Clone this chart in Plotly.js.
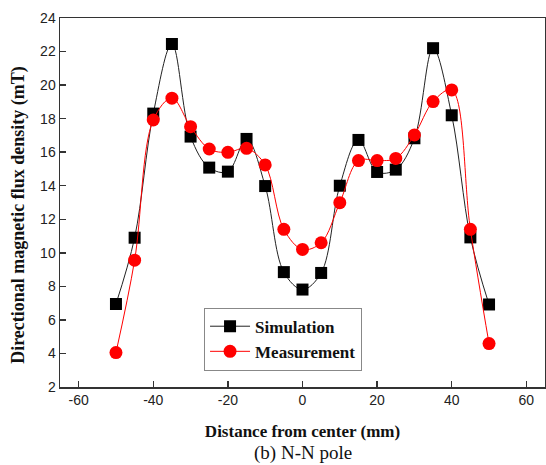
<!DOCTYPE html>
<html>
<head>
<meta charset="utf-8">
<script src="https://cdn.plot.ly/plotly-3.0.1.min.js"></script>
<style>
  html, body { margin: 0; padding: 0; background: #ffffff; }
  #chart { width: 546px; height: 465px; }
</style>
</head>
<body>
<div id="chart"></div>
<script>
// Distance from the centre of the pole pair (mm)
const distance = [-50, -45, -40, -35, -30, -25, -20, -15, -10, -5, 0,
                  5, 10, 15, 20, 25, 30, 35, 40, 45, 50];

// Directional magnetic flux density (mT), simulated
const simulation = [6.95, 10.9, 18.3, 22.45, 16.93, 15.08, 14.84, 16.79, 13.98, 8.85, 7.81,
                    8.8, 14.0, 16.73, 14.82, 14.96, 16.83, 22.2, 18.2, 10.92, 6.92];

// Directional magnetic flux density (mT), measured
const measurement = [4.05, 9.56, 17.92, 19.22, 17.52, 16.19, 15.99, 16.23, 15.24, 11.4, 10.2,
                     10.6, 12.99, 15.5, 15.5, 15.63, 17.03, 19.02, 19.71, 11.4, 4.59];

const xTicks = [-60, -40, -20, 0, 20, 40, 60];
const yTicks = [2, 4, 6, 8, 10, 12, 14, 16, 18, 20, 22, 24];

const serif = "'Liberation Serif', 'Times New Roman', serif";
const sans = "'Liberation Sans', Arial, sans-serif";

const traces = [
  {
    x: distance, y: simulation, name: '<b>Simulation</b>',
    type: 'scatter', mode: 'lines+markers',
    line: { color: '#222222', width: 1, shape: 'spline', smoothing: 1 },
    marker: { symbol: 'square', size: 12, color: '#000000' }
  },
  {
    x: distance, y: measurement, name: '<b>Measurement</b>',
    type: 'scatter', mode: 'lines+markers',
    line: { color: '#ff0000', width: 1, shape: 'spline', smoothing: 1 },
    marker: { symbol: 'circle', size: 13, color: '#ff0000' }
  }
];

const axisCommon = {
  showline: true, mirror: true, linecolor: '#333333', linewidth: 1.5,
  ticks: 'inside', ticklen: 6, tickwidth: 1.5, tickcolor: '#333333',
  showgrid: false, zeroline: false,
  tickfont: { family: sans, size: 14, color: '#222222' }
};

const layout = {
  width: 546, height: 465,
  margin: { l: 60, r: 1, t: 18, b: 78 },
  paper_bgcolor: '#ffffff', plot_bgcolor: '#ffffff',
  showlegend: true,
  xaxis: Object.assign({}, axisCommon, {
    range: [-65, 65], tickvals: xTicks, ticktext: xTicks.map(String),
    title: { text: '<b>Distance from center (mm)</b>', standoff: 18,
             font: { family: serif, size: 17, color: '#111111' } }
  }),
  yaxis: Object.assign({}, axisCommon, {
    range: [2, 24], tickvals: yTicks, ticktext: yTicks.map(String)
  }),
  legend: {
    x: 0.297, y: 0.215, xanchor: 'left', yanchor: 'top',
    bgcolor: '#ffffff', bordercolor: '#888888', borderwidth: 1,
    itemwidth: 40, tracegroupgap: 0,
    font: { family: serif, size: 17, color: '#111111' }
  },
  annotations: [
    {
      // vertical y-axis title
      text: '<b>Directional magnetic flux density (mT)</b>', textangle: -90,
      xref: 'paper', yref: 'paper', x: -0.087, y: 0.466,
      xanchor: 'center', yanchor: 'middle', showarrow: false,
      font: { family: serif, size: 18, color: '#111111' }
    },
    {
      text: '(b) N-N pole', xref: 'paper', yref: 'paper',
      x: 0.5, y: -0.178, xanchor: 'center', yanchor: 'middle', showarrow: false,
      font: { family: serif, size: 19, color: '#111111' }
    }
  ]
};

Plotly.newPlot('chart', traces, layout, { displayModeBar: false, staticPlot: true });
</script>
</body>
</html>
